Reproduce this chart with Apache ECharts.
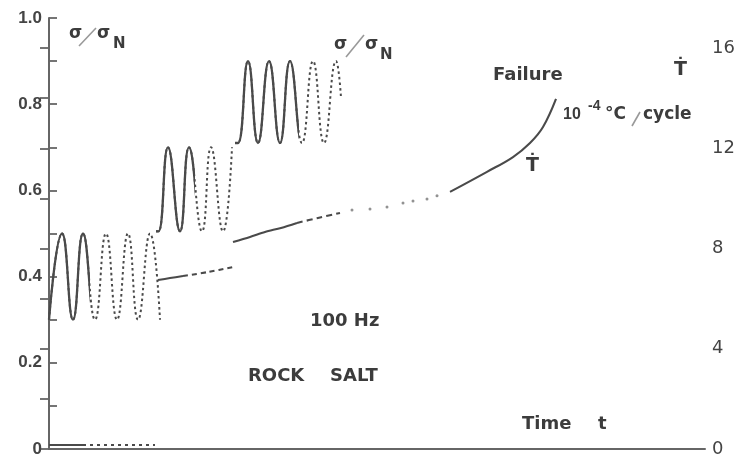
<!DOCTYPE html>
<html>
<head>
<meta charset="utf-8">
<script src="https://cdn.jsdelivr.net/npm/echarts@6/dist/echarts.min.js"></script>
<style>
  html, body { margin: 0; padding: 0; background: #fff; }
  #chart { width: 738px; height: 464px; }
</style>
</head>
<body>
<div id="chart"></div>
<script>
// time in arbitrary units (0 .. 656), stress ratio on left axis, Tdot (1e-4 C/cycle) on right
var tMax = 656;
var stressTicks = [0, 0.2, 0.4, 0.6, 0.8, 1.0];
var tdotTicks = [0, 4, 8, 12, 16];

// stress blocks, peaks and troughs [t, sigma/sigmaN]
var block1 = [[0, 0.30], [13, 0.50], [24, 0.30], [34, 0.50], [46, 0.30], [57, 0.50], [68, 0.30], [79, 0.50],
  [89, 0.30], [101, 0.50], [111, 0.30]];
var block2 = [[107, 0.505], [109.5, 0.505], [119, 0.70], [131, 0.505], [140, 0.70], [153, 0.505], [162, 0.70], [174, 0.505], [183, 0.70]];
var block3 = [[186, 0.71], [189, 0.71], [199, 0.90], [209, 0.71], [220, 0.90], [231, 0.71], [241, 0.90], [253, 0.71],
  [264, 0.90], [275, 0.71], [287, 0.90], [292, 0.815]];
// time where each block's trace turns from solid to dashed
var solidEnds = [39, 144, 248];

// temperature rate Tdot
var tdot0Solid = [[0, 0.16], [34, 0.16]];
var tdot0Dash = [[34, 0.16], [106, 0.16]];
var tdotASolid = [[109, 6.74], [121, 6.82], [134, 6.90]];
var tdotADash = [[134, 6.90], [159, 7.06], [184, 7.26]];
var tdotBSolid = [[184, 8.26], [201, 8.46], [216, 8.66], [232, 8.82], [248, 9.02]];
var tdotBDash = [[248, 9.02], [269, 9.22], [291, 9.42]];
var tdotDots = [[303, 9.54], [321, 9.58], [338, 9.66], [354, 9.82], [364, 9.90], [378, 9.98], [388, 10.10]];
var tdotC = [[401, 10.26], [438, 11.06], [464, 11.65], [481, 12.21], [494, 12.85], [507, 13.97]];

var ink = '#3c3c3c';
var plotLeft = 49, plotRight = 33, plotW = 738 - plotLeft - plotRight;
var chart = echarts.init(document.getElementById('chart'));

function line(data, axis, smooth, dash, width) {
  return {
    type: 'line', data: data, xAxisIndex: axis, yAxisIndex: axis,
    showSymbol: false, smooth: smooth, silent: true, animation: false, clip: true,
    lineStyle: { color: '#4a4a4a', width: width || 2.1, type: dash || 'solid' }
  };
}

function txt(x, y, s, size, opts) {
  opts = opts || {};
  return { type: 'text', left: x, top: y, silent: true,
    style: { text: s, fill: opts.fill || ink, fontSize: size, fontWeight: opts.weight || 'bold',
      fontFamily: opts.family || 'DejaVu Sans' } };
}

function slash(x1, y1, x2, y2) {
  return { type: 'line', silent: true, shape: { x1: x1, y1: y1, x2: x2, y2: y2 },
    style: { stroke: '#999', lineWidth: 1.6 } };
}

var grids = [
  { left: plotLeft, right: plotRight, top: 18, bottom: 15 },
  { left: plotLeft, right: plotRight, top: 48, bottom: 15 }
];
var xAxes = [
  { type: 'value', gridIndex: 0, min: 0, max: tMax,
    axisLine: { show: true, lineStyle: { color: '#666', width: 2 } },
    axisTick: { show: false }, axisLabel: { show: false }, splitLine: { show: false } },
  { type: 'value', gridIndex: 1, min: 0, max: tMax, show: false }
];
var yAxes = [
  { type: 'value', gridIndex: 0, min: 0, max: 1, interval: 0.1,
    axisLine: { show: true, lineStyle: { color: '#666', width: 2 } },
    axisTick: { show: true, inside: true, length: 8, lineStyle: { color: '#666', width: 1.8 } },
    splitLine: { show: false },
    axisLabel: { margin: 7, color: '#444', fontSize: 17, fontWeight: 'bold', fontFamily: 'Liberation Sans',
      formatter: function (v) {
        var r = Math.round(v * 10);
        if (stressTicks.indexOf(r / 10) < 0) return '';
        return r === 0 ? '0' : (r / 10).toFixed(1);
      } } },
  { type: 'value', gridIndex: 1, position: 'right', min: 0, max: 16, interval: 2,
    axisLine: { show: true, lineStyle: { color: '#666', width: 2 } },
    axisTick: { show: true, inside: true, length: 9, lineStyle: { color: '#666', width: 1.8 } },
    splitLine: { show: false },
    axisLabel: { margin: 7, color: '#444', fontSize: 18, fontFamily: 'DejaVu Sans',
      formatter: function (v) { return tdotTicks.indexOf(v) < 0 ? '' : String(v); } } }
];

var series = [];
var blocks = [block1, block2, block3];
blocks.forEach(function (b, i) {
  // whole block dashed in the main grid, solid copy clipped to its own narrower grid on top
  series.push(line(b, 0, 0.5, [2.5, 3], 2));
  var end = solidEnds[i];
  grids.push({ left: plotLeft, width: end / tMax * plotW, top: 18, bottom: 15 });
  xAxes.push({ type: 'value', gridIndex: 2 + i, min: 0, max: end, show: false });
  yAxes.push({ type: 'value', gridIndex: 2 + i, min: 0, max: 1, show: false });
  series.push(line(b, 2 + i, 0.5, 'solid', 2.3));
});

series.push(
  line(tdot0Solid, 1, 0), line(tdot0Dash, 1, 0, [3, 4], 1.8),
  line(tdotASolid, 1, 0.3), line(tdotADash, 1, 0.3, [5, 4]),
  line(tdotBSolid, 1, 0.3), line(tdotBDash, 1, 0.3, [6, 4]),
  { type: 'scatter', data: tdotDots, xAxisIndex: 1, yAxisIndex: 1, symbolSize: 3, silent: true,
    itemStyle: { color: '#777' } },
  line(tdotC, 1, 0.4)
);

var option = {
  backgroundColor: '#fff',
  animation: false,
  grid: grids,
  xAxis: xAxes,
  yAxis: yAxes,
  series: series,
  graphic: [
    // sigma / sigma_N, upper left
    txt(69, 25, 'σ', 17), slash(79, 46, 96, 28),
    txt(97, 25, 'σ', 17), txt(113, 37, 'N', 15),
    // sigma / sigma_N, beside third block
    txt(334, 36, 'σ', 17), slash(346, 57, 364, 35),
    txt(365, 36, 'σ', 17), txt(380, 48, 'N', 15),
    txt(493, 66, 'Failure', 18),
    txt(674, 61, 'Ṫ', 19),
    txt(563, 107, '10', 16, { family: 'Liberation Sans' }), txt(588, 99, '-4', 14, { family: 'Liberation Sans' }),
    txt(605, 106, '°C', 17), slash(632, 126, 640, 112), txt(643, 106, 'cycle', 17),
    txt(526, 157, 'Ṫ', 19),
    txt(310, 312, '100 Hz', 18),
    txt(248, 367, 'ROCK', 18), txt(330, 367, 'SALT', 18),
    txt(522, 415, 'Time', 18), txt(598, 415, 't', 18)
  ]
};
chart.setOption(option);
</script>
</body>
</html>
